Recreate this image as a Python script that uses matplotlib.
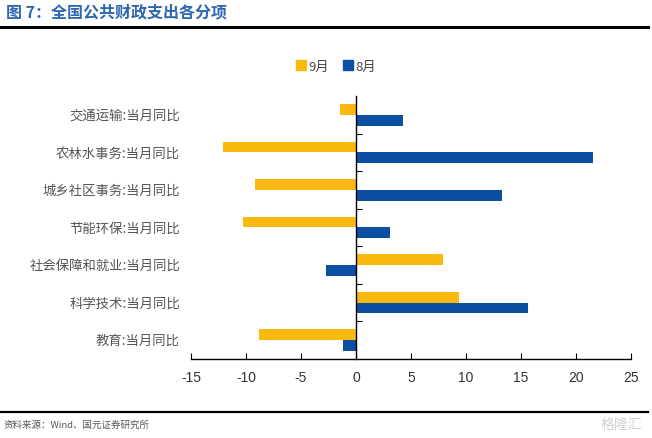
import numpy as np
import matplotlib.pyplot as plt
from matplotlib.lines import Line2D
from matplotlib.transforms import blended_transform_factory

plt.rcParams['font.family'] = ['Noto Sans CJK SC', 'DejaVu Sans']

categories = ['交通运输:当月同比', '农林水事务:当月同比', '城乡社区事务:当月同比', '节能环保:当月同比',
              '社会保障和就业:当月同比', '科学技术:当月同比', '教育:当月同比']
sep = [-1.5, -12.1, -9.2, -10.3, 7.9, 9.4, -8.85]
aug = [4.3, 21.5, 13.3, 3.1, -2.75, 15.6, -1.2]
xticks = [-15, -10, -5, 0, 5, 10, 15, 20, 25]

yellow = '#F9B90F'
blue = '#0B4EA2'

fig = plt.figure(figsize=(6.52, 4.39), dpi=100)
ax = fig.add_axes([0.293, 0.18, 0.675, 0.599])

y = np.arange(len(categories))
h = 0.285
ax.barh(y - h / 2, sep, height=h, color=yellow, label='9月')
ax.barh(y + h / 2, aug, height=h, color=blue, label='8月')

ax.set_xlim(-15, 25)
ax.set_ylim(len(categories) - 0.5, -0.5)
ax.set_xticks(xticks)
ax.set_xticklabels([str(v) for v in xticks], fontsize=10, color='#333333',
                   family=['Liberation Sans', 'DejaVu Sans'])
ax.tick_params(axis='x', direction='in', length=4, width=0.8, pad=8)

for s in ['top', 'right']:
    ax.spines[s].set_visible(False)
ax.spines['left'].set_position(('data', 0))
ax.spines['left'].set_linewidth(1.0)
ax.spines['bottom'].set_linewidth(1.0)

ax.set_yticks(y)
ax.set_yticklabels([])
ax.tick_params(axis='y', which='major', length=0)
ax.set_yticks(np.arange(len(categories) - 1) + 0.5, minor=True)
ax.tick_params(axis='y', which='minor', direction='in', length=4, width=0.8)

tr = blended_transform_factory(ax.transAxes, ax.transData)
for yi, c in zip(y, categories):
    ax.text(-0.025, yi, c, transform=tr, ha='right', va='center', fontsize=9.6, color='#555555')

handles = [Line2D([], [], marker='s', linestyle='', color=yellow, markersize=6.5),
           Line2D([], [], marker='s', linestyle='', color=blue, markersize=6.5)]
fig.legend(handles, ['9月', '8月'], loc='center', bbox_to_anchor=(0.515, 0.847), ncol=2,
           frameon=False, fontsize=9.5, handlelength=0.8, handletextpad=0.2, columnspacing=1.0,
           labelcolor='#444444')

fig.text(0.009, 0.972, '图 7：全国公共财政支出各分项', fontsize=11.5, fontweight='bold',
         color='#2E67B1', ha='left', va='center')
fig.add_artist(Line2D([0.0, 0.994], [0.937, 0.937], color='black', linewidth=2.2))
fig.add_artist(Line2D([0.0, 0.994], [0.059, 0.059], color='black', linewidth=1.6))
fig.text(0.005, 0.032, '资料来源：Wind、国元证券研究所', fontsize=6.8, color='#555555',
         ha='left', va='center')
fig.text(0.985, 0.032, '格隆汇', fontsize=10, color='#D0D0D0', ha='right', va='center')

fig.savefig('out.png', dpi=100)
